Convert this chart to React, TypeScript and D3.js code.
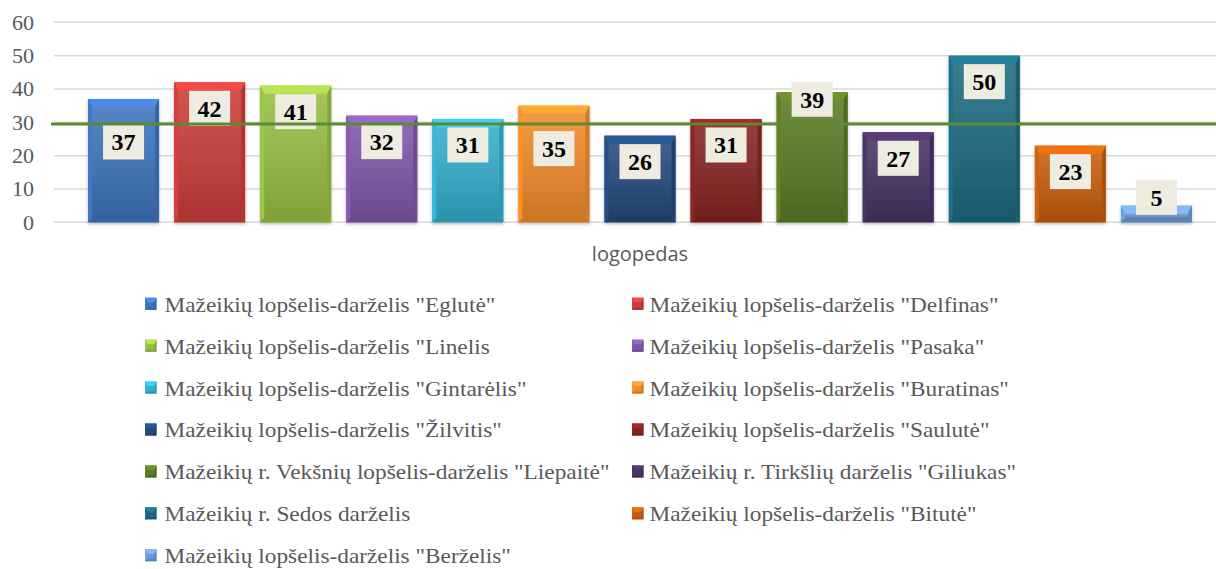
import React from "react";
import * as d3 from "d3";

const categories = [
  'Mažeikių lopšelis-darželis "Eglutė"',
  'Mažeikių lopšelis-darželis "Delfinas"',
  'Mažeikių lopšelis-darželis "Linelis',
  'Mažeikių lopšelis-darželis "Pasaka"',
  'Mažeikių lopšelis-darželis "Gintarėlis"',
  'Mažeikių lopšelis-darželis "Buratinas"',
  'Mažeikių lopšelis-darželis "Žilvitis"',
  'Mažeikių lopšelis-darželis "Saulutė"',
  'Mažeikių r. Vekšnių lopšelis-darželis "Liepaitė"',
  'Mažeikių r. Tirkšlių darželis "Giliukas"',
  "Mažeikių r. Sedos darželis",
  'Mažeikių lopšelis-darželis "Bitutė"',
  'Mažeikių lopšelis-darželis "Berželis"',
];
const values = [37, 42, 41, 32, 31, 35, 26, 31, 39, 27, 50, 23, 5];
const yTicks = [0, 10, 20, 30, 40, 50, 60];
const axisCategory = "logopedas";
const referenceValue = 29.5;

const palette = [
  "#3d74bd", "#c93d3a", "#96bd43", "#7d57a8", "#33adcb", "#f08a2a",
  "#234a7b", "#862422", "#5b7a24", "#483263", "#1d6a80", "#c65d0c", "#6b98d4",
];

// labels Excel nudged by hand around the green line
const labelNudge: Record<number, number> = { 0: 17, 5: 17, 8: -19 };

const W = 1216;
const H = 569;
const serif = "'Liberation Serif', 'Times New Roman', serif";
const sans = "'Open Sans', 'Liberation Sans', sans-serif";

function Bevel({ x, y, w, h, color, bt, bs }: any) {
  const c = d3.color(color)!;
  const light = d3.rgb(c).brighter(0.55).formatHex();
  const side = d3.rgb(c).brighter(0.15).formatHex();
  const dark = d3.rgb(c).darker(0.45).formatHex();
  const t = Math.min(bt, h / 2);
  const s = Math.min(bs, w / 2);
  const b = Math.min(bs, h / 3);
  return (
    <g>
      <rect x={x} y={y} width={w} height={h} fill={color} />
      <polygon points={`${x},${y} ${x + w},${y} ${x + w - s},${y + t} ${x + s},${y + t}`} fill={light} />
      <polygon points={`${x},${y} ${x + s},${y + t} ${x + s},${y + h - b} ${x},${y + h}`} fill={side} />
      <polygon points={`${x + w},${y} ${x + w - s},${y + t} ${x + w - s},${y + h - b} ${x + w},${y + h}`} fill={dark} opacity={0.8} />
      <polygon points={`${x},${y + h} ${x + s},${y + h - b} ${x + w - s},${y + h - b} ${x + w},${y + h}`} fill={dark} />
    </g>
  );
}

export default function App() {
  const y = d3.scaleLinear().domain([0, 60]).range([222.3, 22.3]);
  const x = d3
    .scaleBand<number>()
    .domain(values.map((_, i) => i))
    .range([80.5, 1199.5])
    .paddingInner(0.175)
    .paddingOuter(0.0875);
  const bw = x.bandwidth();

  return (
    <svg width={W} height={H} style={{ position: "absolute", left: 0, top: 0, display: "block" }}>
      <defs>
        <linearGradient id="shade" x1="0" y1="0" x2="0" y2="1">
          <stop offset="0" stopColor="#fff" stopOpacity={0.12} />
          <stop offset="1" stopColor="#000" stopOpacity={0.15} />
        </linearGradient>
        <filter id="shadow" x="-10%" y="-10%" width="120%" height="130%">
          <feDropShadow dx="0" dy="1.5" stdDeviation="1.5" floodColor="#000" floodOpacity={0.3} />
        </filter>
      </defs>
      <rect width={W} height={H} fill="#fff" />

      {yTicks.map((t) => (
        <g key={t}>
          <line x1={54} x2={W} y1={y(t)} y2={y(t)} stroke="#d9d9d9" strokeWidth={1.5} />
          <text x={34} y={y(t) + 7.5} textAnchor="end" fontFamily={serif} fontSize={22} fill="#595959">
            {t}
          </text>
        </g>
      ))}

      {values.map((v, i) => {
        const bx = x(i)!;
        const by = y(v);
        const bh = y(0) - by;
        return (
          <g key={i} filter="url(#shadow)">
            <Bevel x={bx} y={by} w={bw} h={bh} color={palette[i]} bt={8} bs={4} />
            <rect x={bx + 4} y={by + 8} width={bw - 8} height={Math.max(0, bh - 12)} fill="url(#shade)" />
          </g>
        );
      })}

      {values.map((v, i) => {
        const cx = x(i)! + bw / 2;
        const bh = y(0) - y(v);
        let cy = bh > 40 ? y(v) + 26 : y(0) - 25;
        cy += labelNudge[i] || 0;
        return (
          <g key={i}>
            <rect x={cx - 20.5} y={cy - 17.5} width={41} height={35} fill="#eeece1" />
            <text x={cx} y={cy + 8.5} textAnchor="middle" fontFamily={serif} fontWeight="bold" fontSize={24} fill="#000">
              {v}
            </text>
          </g>
        );
      })}

      <line x1={51} x2={W} y1={y(referenceValue)} y2={y(referenceValue)} stroke="#5a8a32" strokeWidth={3} />

      <text x={640} y={261} textAnchor="middle" fontFamily={sans} fontSize={20} fill="#595959">
        {axisCategory}
      </text>

      {categories.map((name, i) => {
        const col = i % 2;
        const row = Math.floor(i / 2);
        const lx = col === 0 ? 145 : 632;
        const tx = col === 0 ? 164.5 : 649.5;
        const base = 311.7 + row * 41.93;
        return (
          <g key={name}>
            <Bevel x={lx} y={base - 14} w={11.5} h={12} color={palette[i]} bt={4.5} bs={2} />
            <text
              x={0}
              y={0}
              transform={`translate(${tx},${base}) scale(1.11,1)`}
              fontFamily={serif}
              fontSize={21}
              fill="#595959"
            >
              {name}
            </text>
          </g>
        );
      })}
    </svg>
  );
}
